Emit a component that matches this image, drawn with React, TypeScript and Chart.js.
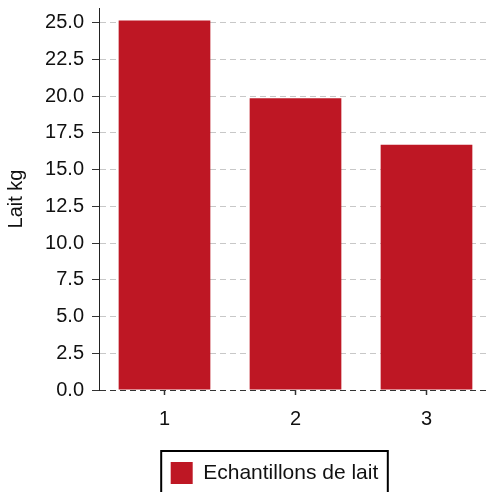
import { useEffect, useRef } from 'react';
import { Chart, registerables } from 'chart.js';

Chart.register(...registerables);

const categories = ['1', '2', '3'];
const seriesLabel = 'Echantillons de lait';
const milkKg = [25.15, 19.85, 16.7];
const yTicks = [0, 2.5, 5, 7.5, 10, 12.5, 15, 17.5, 20, 22.5, 25];
const yAxisTitle = 'Lait kg';

const FONT_FAMILY = "'Liberation Sans', Arial, Helvetica, sans-serif";
const font = { family: FONT_FAMILY, size: 20 };
const legendFont = { family: FONT_FAMILY, size: 21 };

const legendFrame = {
  id: 'legendFrame',
  afterLayout(chart: any) {
    const lg = chart.legend;
    if (!lg) return;
    const dx = 274.5 - (lg.left + lg.right) / 2;
    lg.left += dx;
    lg.right += dx;
  },
  afterDraw(chart: any) {
    const lg = chart.legend;
    const hb = lg && lg.legendHitBoxes && lg.legendHitBoxes[0];
    if (!hb) return;
    const ctx = chart.ctx;
    ctx.save();
    ctx.strokeStyle = '#000';
    ctx.lineWidth = 2;
    ctx.strokeRect(hb.left - 9.5, hb.top - 11, hb.width + 19, hb.height + 22);
    ctx.restore();
  },
};

export default function App() {
  const ref = useRef<HTMLCanvasElement | null>(null);

  useEffect(() => {
    if (!ref.current) return;
    const chart = new Chart(ref.current, {
      type: 'bar',
      data: {
        labels: categories,
        datasets: [
          {
            label: seriesLabel,
            data: milkKg,
            backgroundColor: '#be1724',
            borderWidth: 0,
            barPercentage: 0.7,
            categoryPercentage: 1,
          },
        ],
      },
      options: {
        animation: false,
        responsive: false,
        layout: { padding: { top: 8, left: 0, right: 0, bottom: 0 } },
        plugins: {
          legend: {
            position: 'bottom',
            labels: {
              boxWidth: 22,
              boxHeight: 22,
              padding: 20,
              font: legendFont,
              color: '#111',
            },
          },
          tooltip: { enabled: false },
        },
        scales: {
          x: {
            offset: true,
            grid: {
              offset: false,
              drawOnChartArea: false,
              drawTicks: true,
              tickLength: 5,
              tickColor: '#333',
              tickWidth: 1.5,
            },
            border: { display: false },
            ticks: { padding: 12, color: '#111', font },
            afterFit(scale: any) {
              scale.height = 52;
              scale.paddingLeft = 0;
              scale.paddingRight = 0;
            },
          },
          y: {
            min: 0,
            max: 26,
            afterBuildTicks(scale: any) {
              scale.ticks = yTicks.map((v) => ({ value: v }));
            },
            ticks: {
              callback: (v: any) => Number(v).toFixed(1),
              padding: 8,
              color: '#111',
              font,
            },
            grid: {
              color: (c: any) => (c.tick && c.tick.value === 0 ? '#333' : '#c8c8c8'),
              tickColor: '#333',
              tickLength: 7,
              lineWidth: 1,
            },
            border: { display: true, color: '#222', width: 1, dash: [6, 4] },
            title: {
              display: true,
              text: yAxisTitle,
              font,
              color: '#111',
              padding: { top: 4, bottom: 0 },
            },
            afterFit(scale: any) {
              scale.width = 99;
              scale.paddingTop = 0;
              scale.paddingBottom = 0;
            },
          },
        },
      } as any,
      plugins: [legendFrame],
    });
    return () => chart.destroy();
  }, []);

  return (
    <canvas
      ref={ref}
      width={492}
      height={494}
      style={{ position: 'fixed', left: 0, top: 0, width: 492, height: 494 }}
    />
  );
}
